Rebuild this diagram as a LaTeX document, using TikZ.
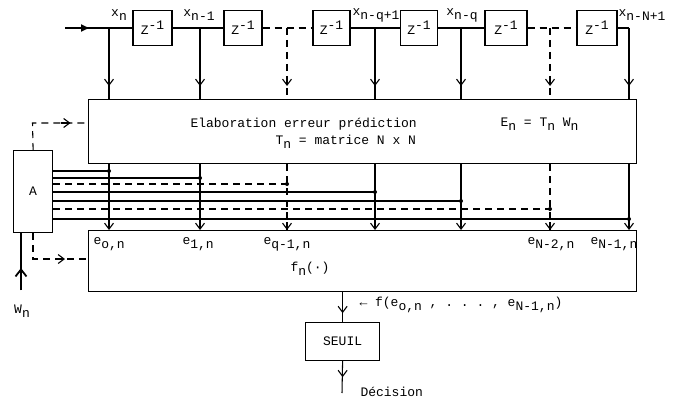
\documentclass[tikz,border=0pt]{standalone}
\usepackage{fontspec}
\setmonofont{Liberation Mono}
\usetikzlibrary{arrows.meta}
\newcommand\lo[1]{\raisebox{-0.6ex}{#1}}
\newcommand\hi[1]{\raisebox{0.7ex}{#1}}
\begin{document}
\begin{tikzpicture}[x=1pt,y=-1pt,
  font=\ttfamily\fontsize{13}{15}\selectfont,
  line width=1.05pt,
  box/.style={draw, line width=1.2pt, inner sep=0pt},
  dbox/.style={box, minimum height=35pt},
  arr/.style={-{Straight Barb[length=6pt,width=9pt,line width=1.1pt]}},
  dsh/.style={dash pattern=on 7pt off 5pt},
  lbl/.style={inner sep=0pt}]
\useasboundingbox (0,0) rectangle (677,401);

% delay line
\coordinate (in) at (65,28);
\node[dbox, minimum width=39pt] (d1) at (152.5,28) {Z\hi{-1}};
\node[dbox, minimum width=38pt] (d2) at (243,28) {Z\hi{-1}};
\node[dbox, minimum width=37pt] (d3) at (331.5,28) {Z\hi{-1}};
\node[dbox, minimum width=37pt] (d4) at (419,28) {Z\hi{-1}};
\node[dbox, minimum width=42pt] (d5) at (506,28) {Z\hi{-1}};
\node[dbox, minimum width=40pt] (d6) at (597,28) {Z\hi{-1}};

\coordinate (t0) at (109,28);
\coordinate (t1) at (200,28);
\coordinate (t2) at (287,28);
\coordinate (t3) at (375,28);
\coordinate (t4) at (461,28);
\coordinate (t5) at (550,28);
\coordinate (t6) at (629,28);

\draw (in) -- (d1.west);
\draw[line width=1.8pt, -{Triangle[length=8pt,width=7pt]}] (in) -- ++(24,0);
\draw (d1.east) -- (d2.west);
\draw[dsh] (d2.east) -- (d3.west);
\draw (d3.east) -- (d4.west);
\draw (d4.east) -- (d5.west);
\draw[dsh] (d5.east) -- (d6.west);
\draw (d6.east) -- (t6);

% tap labels
\node[lbl] (lx0) at (119,15) {x\lo{n}};
\node[lbl] (lx1) at (199,15) {x\lo{n-1}};
\node[lbl] (lx2) at (376,15) {x\lo{n-q+1}};
\node[lbl] (lx3) at (462,15) {x\lo{n-q}};
\node[lbl] (lx4) at (642,15) {x\lo{n-N+1}};

% big boxes
\node[box, anchor=north west, minimum width=548pt, minimum height=64pt] (E) at (88,99) {};
\node[box, anchor=north west, minimum width=548pt, minimum height=61pt] (F) at (88,230) {};
\node[box, anchor=north west, minimum width=39pt, minimum height=82pt] (A) at (13,150) {};
\node[lbl] (Alab) at (A.center) {A};
\node[box, anchor=north west, minimum width=74pt, minimum height=38pt] (S) at (305,322) {SEUIL};

% texts in E
\node[lbl, anchor=west] (e1) at (190,124) {Elaboration erreur prédiction};
\node[lbl, anchor=west] (e2) at (500,124) {E\lo{n} = T\lo{n} W\lo{n}};
\node[lbl, anchor=west] (e3) at (275,142) {T\lo{n} = matrice N x N};

% texts in F
\node[lbl, anchor=west] (f0) at (93,244) {e\lo{o,n}};
\node[lbl, anchor=west] (f1) at (182,244) {e\lo{1,n}};
\node[lbl, anchor=west] (f2) at (263,244) {e\lo{q-1,n}};
\node[lbl, anchor=west] (f3) at (527,244) {e\lo{N-2,n}};
\node[lbl, anchor=west] (f4) at (590,244) {e\lo{N-1,n}};
\node[lbl, anchor=west] (fn) at (290,269) {f\lo{n}(·)};

% vertical taps into E
\foreach \t in {t0,t1,t3,t4,t6}{
  \draw (\t) -- (\t |- E.north);
  \draw[arr] (\t) -- ++(0,58);
}
\foreach \t in {t2,t5}{
  \draw[dsh] (\t) -- (\t |- E.north);
  \draw[arr] (\t) ++(0,50) -- ++(0,8);
}
% from E to F
\foreach \t in {t0,t1,t3,t4,t6}{
  \draw[arr] (\t |- E.south) -- (\t |- F.north);
}
\foreach \t in {t2,t5}{
  \draw[dsh] (\t |- E.south) -- (\t |- F.north);
  \draw[arr] (\t |- F.north) ++(0,-8) -- (\t |- F.north);
}

% lines from A
\coordinate (h0) at (109,171);
\coordinate (h1) at (200,178);
\coordinate (h2) at (287,184);
\coordinate (h3) at (375,192);
\coordinate (h4) at (461,201);
\coordinate (h5) at (550,209);
\coordinate (h6) at (629,219);
\foreach \h in {h0,h1,h3,h4,h6}{
  \draw (A.east |- \h) -- (\h);
  \fill (\h) circle (2pt);
}
\foreach \h in {h2,h5}{
  \draw[dsh] (A.east |- \h) -- (\h);
  \fill (\h) circle (2pt);
}

% dashed controls from A
\coordinate (a1) at (32.5,123);
\draw[dsh] (A.north) -- (a1) -- (E.west |- a1);
\draw[arr] (a1) ++(28,0) -- ++(10,0);
\coordinate (a2) at (33,259);
\draw[dsh] (a2 |- A.south) -- (a2) -- (F.west |- a2);
\draw[arr] (a2) ++(22,0) -- ++(10,0);

% W_n input
\coordinate (w) at (21,290);
\draw[line width=2.6pt] (w) -- (w |- A.south);
\draw[line width=1.8pt, -{Straight Barb[length=7pt,width=11pt]}] (w) -- ++(0,-22);
\node[lbl] (wl) at (22,311) {W\lo{n}};

% output
\draw (S.north |- F.south) -- (S.north);
\draw[arr] (S.north |- F.south) -- ++(0,21);
\node[lbl, anchor=west] (fo) at (359,305) {← f(e\lo{o,n} , . . . , e\lo{N-1,n})};
\coordinate (dec) at (342,393);
\draw (S.south) -- (dec);
\draw[arr] (S.south) -- ++(0,16);
\node[lbl, anchor=west] (dl) at (360,392) {Décision};
\end{tikzpicture}
\end{document}
